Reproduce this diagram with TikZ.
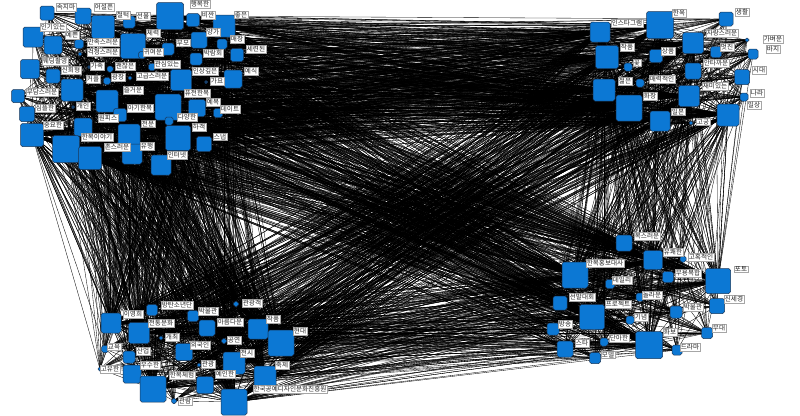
\documentclass[tikz,border=0pt]{standalone}
\usepackage{fontspec}
\newfontfamily\kr{Noto Sans CJK KR}
\usetikzlibrary{backgrounds}
\pgfdeclarelayer{fg}
\pgfsetlayers{background,main,fg}
\definecolor{nodeblue}{RGB}{12,120,212}
\definecolor{nodeedge}{RGB}{25,55,90}
\tikzset{
  sq/.style={draw=nodeedge, line width=0.5pt, fill=nodeblue, rounded corners=1.8pt, inner sep=0pt, shape=rectangle},
  lab/.style={fill=white, draw=black!35, line width=0.3pt, inner sep=0.7pt, font=\kr\fontsize{6.6}{7}\selectfont, text=black!85},
  lnk/.style={draw=black, line width=0.33pt}
}
\newcommand\nd[7]{\node[sq, minimum size=#4pt] (#1) at (#2,#3) {};
  \begin{pgfonlayer}{fg}\node[lab] (l#1) at (#6,#7) {#5};\end{pgfonlayer}}
\newcommand\linkall[2]{\foreach \p in #1 {\foreach \q in #2 {\draw[lnk] (\p.center) -- (\q.center);}}}
\begin{document}
\begin{tikzpicture}[x=1pt,y=-1pt]
\useasboundingbox (0,0) rectangle (800,415);
% ---- cluster A (top left)
\nd{a1}{47}{13}{14}{속지마}{66}{7}
\nd{a2}{83}{16}{16}{어설픈}{104}{7}
\nd{a3}{103}{27}{23}{철턱}{123}{15}
\nd{a4}{129}{22}{12}{선물}{143}{16}
\nd{a5}{170}{16}{27}{행복한}{200}{4}
\nd{a6}{193}{20}{13}{비싼}{208}{15}
\nd{a7}{224}{26}{22}{좋은}{241}{15}
\nd{a8}{33}{37}{20}{인기있는}{53}{27}
\nd{a9}{53}{45}{18}{예쁜}{72}{35}
\nd{a10}{79}{44}{9}{만족스러운}{103}{42}
\nd{a11}{133}{46}{25}{체력}{153}{33}
\nd{a12}{142}{55}{7}{귀여운}{153}{52}
\nd{a13}{168}{49}{12}{부모}{183}{43}
\nd{a14}{199}{40}{16}{양가}{213}{32}
\nd{a15}{222}{44}{10}{매장}{237}{39}
\nd{a16}{237}{55}{13}{세련된}{256}{49}
\nd{a17}{196}{59}{12}{박람회}{213}{53}
\nd{a18}{30}{69}{19}{웨딩촬영}{55}{61}
\nd{a19}{80}{54}{4}{걱정스러운}{103}{52}
\nd{a20}{89}{67}{3}{가족}{97}{66}
\nd{a21}{110}{69}{6}{괜찮은}{125}{66}
\nd{a22}{152}{67}{7}{관심있는}{167}{64}
\nd{a23}{181}{80}{21}{인상깊은}{205}{71}
\nd{a24}{233}{79}{18}{예식}{251}{71}
\nd{a25}{53}{76}{14}{신회형}{71}{70}
\nd{a26}{107}{81}{7}{광장}{118}{77}
\nd{a27}{130}{78}{4}{고급스러운}{152}{76}
\nd{a28}{206}{82}{3}{가요}{217}{81}
\nd{a29}{18}{96}{13}{부담스러운}{42}{92}
\nd{a30}{107}{101}{22}{즐거운}{133}{90}
\nd{a31}{168}{107}{26}{퓨전한복}{197}{93}
\nd{a32}{197}{108}{17}{예복}{213}{102}
\nd{a33}{73}{107}{3}{개인}{83}{106}
\nd{a34}{218}{113}{9}{데이트}{230}{109}
\nd{a35}{27}{114}{15}{심플한}{45}{108}
\nd{a36}{120}{115}{13}{아기한복}{140}{108}
\nd{a37}{83}{127}{18}{원피스}{108}{118}
\nd{a38}{169}{121}{8}{다양한}{187}{117}
\nd{a39}{178}{138}{25}{하객}{199}{127}
\nd{a40}{32}{135}{23}{중요한}{53}{125}
\nd{a41}{129}{135}{22}{전문}{148}{124}
\nd{a42}{66}{149}{27}{한복이야기}{97}{137}
\nd{a43}{204}{144}{15}{스냅}{220}{137}
\nd{a44}{132}{154}{20}{유행}{147}{146}
\nd{a45}{90}{158}{23}{촌스러운}{117}{147}
\nd{a46}{161}{165}{20}{인터넷}{177}{155}
\nd{a47}{72}{90}{22}{커플}{93}{79}
% ---- cluster B (top right)
\nd{b1}{600}{32}{20}{인스타그램}{627}{23}
\nd{b2}{660}{25}{27}{한옥}{679}{13}
\nd{b3}{726}{19}{14}{생활}{742}{12}
\nd{b4}{693}{43}{21}{자랑스러운}{722}{33}
\nd{b5}{747}{40}{4}{가벼운}{773}{39}
\nd{b6}{607}{57}{23}{작품}{627}{47}
\nd{b7}{656}{56}{13}{상품}{668}{51}
\nd{b8}{716}{52}{11}{멋진}{727}{47}
\nd{b9}{753}{54}{10}{바지}{773}{49}
\nd{b10}{628}{67}{8}{꽃}{637}{63}
\nd{b11}{693}{71}{16}{안타까운}{716}{63}
\nd{b12}{742}{77}{15}{시대}{759}{70}
\nd{b13}{604}{90}{22}{젊은}{625}{81}
\nd{b14}{640}{83}{8}{매력적인}{662}{79}
\nd{b15}{689}{96}{21}{재미있는}{715}{86}
\nd{b16}{744}{97}{8}{나라}{757}{93}
\nd{b17}{629}{108}{26}{화장}{650}{96}
\nd{b18}{728}{115}{22}{일상}{754}{105}
\nd{b19}{660}{121}{20}{일본}{678}{112}
\nd{b20}{691}{123}{4}{고궁}{703}{122}
% ---- cluster C (bottom right)
\nd{c1}{624}{243}{16}{복스러운}{647}{236}
\nd{c2}{653}{260}{19}{유쾌한}{673}{252}
\nd{c3}{683}{259}{6}{고혹적인}{701}{257}
\nd{c4}{575}{275}{26}{한복홍보대사}{605}{263}
\nd{c5}{718}{281}{25}{포토}{741}{269}
\nd{c6}{668}{277}{11}{무용복합}{688}{273}
\nd{c7}{610}{284}{9}{데일리}{622}{280}
\nd{c8}{560}{303}{14}{선발대회}{582}{297}
\nd{c9}{640}{297}{8}{놀라운}{652}{295}
\nd{c10}{717}{306}{15}{신세경}{734}{299}
\nd{c11}{592}{317}{25}{프로젝트}{618}{304}
\nd{c12}{676}{312}{12}{박물관}{693}{307}
\nd{c13}{630}{320}{8}{기념}{641}{317}
\nd{c14}{553}{329}{12}{방송}{565}{324}
\nd{c15}{707}{333}{11}{무대}{719}{328}
\nd{c16}{649}{345}{27}{화보}{670}{332}
\nd{c17}{565}{349}{16}{스타}{582}{343}
\nd{c18}{604}{342}{8}{단아한}{619}{338}
\nd{c19}{595}{358}{11}{모델}{608}{355}
\nd{c20}{677}{350}{10}{드라마}{690}{347}
% ---- cluster D (bottom left)
\nd{d1}{152}{310}{11}{방탄소년단}{177}{305}
\nd{d2}{236}{304}{5}{관광객}{252}{303}
\nd{d3}{111}{323}{20}{이영희}{133}{314}
\nd{d4}{193}{316}{11}{박물관}{208}{311}
\nd{d5}{139}{333}{21}{전통문화}{161}{323}
\nd{d6}{207}{328}{16}{아름다운}{230}{322}
\nd{d7}{258}{329}{20}{작품}{273}{319}
\nd{d8}{281}{343}{26}{현대}{300}{331}
\nd{d9}{161}{338}{4}{개최}{172}{337}
\nd{d10}{224}{341}{5}{공연}{234}{340}
\nd{d11}{105}{349}{7}{교육}{114}{347}
\nd{d12}{129}{357}{12}{산업}{143}{351}
\nd{d13}{184}{352}{17}{외국인}{200}{345}
\nd{d14}{234}{363}{22}{전시}{247}{353}
\nd{d15}{100}{369}{4}{고유한}{110}{369}
\nd{d16}{132}{374}{18}{우수한}{150}{365}
\nd{d17}{199}{365}{4}{관광}{208}{364}
\nd{d18}{265}{377}{22}{축제}{282}{365}
\nd{d19}{153}{389}{26}{한복체험}{182}{375}
\nd{d20}{205}{385}{17}{예인한}{225}{374}
\nd{d21}{234}{402}{26}{한국공예디자인문화진흥원}{290}{389}
\nd{d22}{174}{401}{5}{관람}{185}{401}
% ---- edges
\def\Aall{a1,a2,a3,a4,a5,a6,a7,a8,a9,a10,a11,a12,a13,a14,a15,a16,a17,a18,a19,a20,a21,a22,a23,a24,a25,a26,a27,a28,a29,a30,a31,a32,a33,a34,a35,a36,a37,a38,a39,a40,a41,a42,a43,a44,a45,a46,a47}
\def\Ahub{a3,a5,a7,a11,a30,a31,a39,a40,a41,a42,a45,a47}
\def\Ball{b1,b2,b3,b4,b5,b6,b7,b8,b9,b10,b11,b12,b13,b14,b15,b16,b17,b18,b19,b20}
\def\Bhub{b1,b2,b4,b6,b13,b15,b17,b18,b19}
\def\Call{c1,c2,c3,c4,c5,c6,c7,c8,c9,c10,c11,c12,c13,c14,c15,c16,c17,c18,c19,c20}
\def\Chub{c2,c4,c5,c11,c16}
\def\Dall{d1,d2,d3,d4,d5,d6,d7,d8,d9,d10,d11,d12,d13,d14,d15,d16,d17,d18,d19,d20,d21,d22}
\def\Dhub{d3,d5,d7,d8,d14,d18,d19,d21}
\begin{pgfonlayer}{background}
\fill[white] (0,0) rectangle (800,415);
\linkall{\Aall}{\Bhub}
\linkall{\Aall}{\Chub}
\linkall{\Aall}{\Dhub}
\linkall{\Ball}{\Ahub}
\linkall{\Ball}{\Chub}
\linkall{\Ball}{\Dhub}
\linkall{\Call}{\Ahub}
\linkall{\Call}{\Bhub}
\linkall{\Call}{\Dhub}
\linkall{\Dall}{\Ahub}
\linkall{\Dall}{\Bhub}
\linkall{\Dall}{\Chub}
\linkall{\Aall}{\Ahub}
\linkall{\Ball}{\Bhub}
\linkall{\Call}{\Chub}
\linkall{\Dall}{\Dhub}
\end{pgfonlayer}
\end{tikzpicture}
\end{document}
